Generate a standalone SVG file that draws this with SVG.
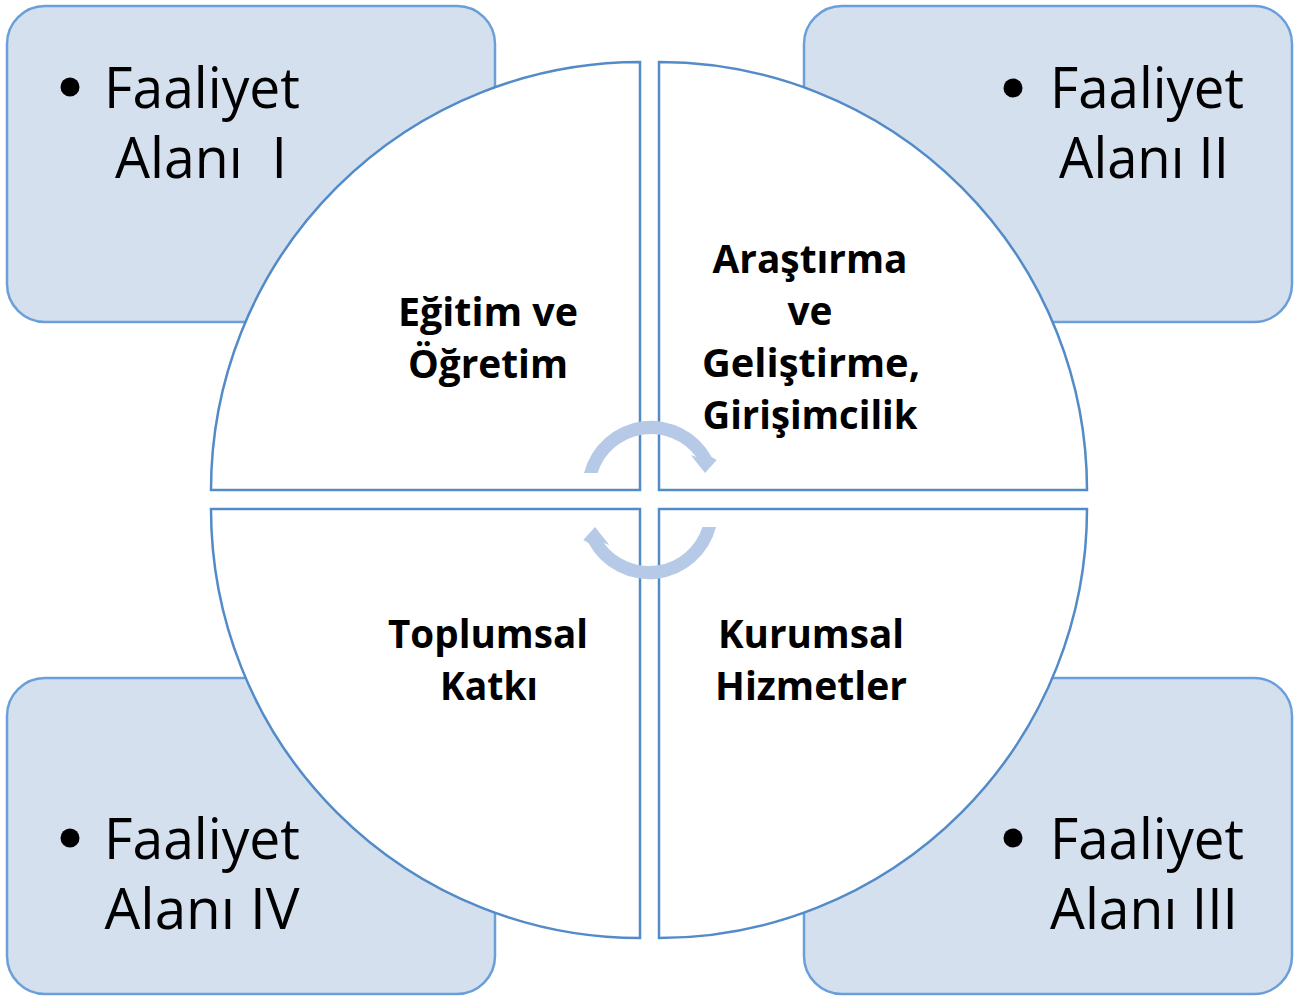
<svg xmlns="http://www.w3.org/2000/svg" width="1306" height="996" viewBox="0 0 1306 996">
<style>
.box{fill:#D5E0EF;stroke:#6A9FD9;stroke-width:2.5}
.quad{fill:#FFFFFF;stroke:#538BC9;stroke-width:2.5}
.arrow{fill:#B6CAE8;stroke:none}
.bt{font-family:"Open Sans","Noto Sans",sans-serif;font-size:56px;fill:#000;text-anchor:middle}
.qt{font-family:"Open Sans","Noto Sans",sans-serif;font-weight:bold;font-size:40px;fill:#000;text-anchor:middle}
.bul{fill:#000}
</style>
<rect width="1306" height="996" fill="#FFFFFF"/>
<g id="box1">
<rect class="box" x="7" y="6" width="488" height="316" rx="38"/>
<circle class="bul" cx="70" cy="87" r="9.5"/>
<text class="bt" x="202" y="108" textLength="196" lengthAdjust="spacingAndGlyphs">Faaliyet</text>
<text class="bt" x="201" y="178" textLength="172" lengthAdjust="spacingAndGlyphs" xml:space="preserve">Alanı  I</text>
</g>
<g id="box2">
<rect class="box" x="804" y="6" width="488" height="316" rx="38"/>
<circle class="bul" cx="1013" cy="88" r="9.5"/>
<text class="bt" x="1147" y="108" textLength="194" lengthAdjust="spacingAndGlyphs">Faaliyet</text>
<text class="bt" x="1144" y="178" textLength="170" lengthAdjust="spacingAndGlyphs">Alanı II</text>
</g>
<g id="box4">
<rect class="box" x="7" y="678" width="488" height="316" rx="38"/>
<circle class="bul" cx="70" cy="838" r="9.5"/>
<text class="bt" x="202" y="859" textLength="196" lengthAdjust="spacingAndGlyphs">Faaliyet</text>
<text class="bt" x="202" y="929" textLength="195" lengthAdjust="spacingAndGlyphs">Alanı IV</text>
</g>
<g id="box3">
<rect class="box" x="804" y="678" width="488" height="316" rx="38"/>
<circle class="bul" cx="1013" cy="838" r="9.5"/>
<text class="bt" x="1147" y="859" textLength="194" lengthAdjust="spacingAndGlyphs">Faaliyet</text>
<text class="bt" x="1144" y="929" textLength="188" lengthAdjust="spacingAndGlyphs">Alanı III</text>
</g>
<g id="q1">
<path class="quad" d="M640,490 L211,490 A429,428 0 0 1 640,62 Z"/>
<text class="qt" x="488" y="326" textLength="180" lengthAdjust="spacingAndGlyphs">Eğitim ve</text>
<text class="qt" x="488" y="378" textLength="160" lengthAdjust="spacingAndGlyphs">Öğretim</text>
</g>
<g id="q2">
<path class="quad" d="M659,490 L1087,490 A428,428 0 0 0 659,62 Z"/>
<text class="qt" x="810" y="273" textLength="195" lengthAdjust="spacingAndGlyphs">Araştırma</text>
<text class="qt" x="810" y="325" textLength="45" lengthAdjust="spacingAndGlyphs">ve</text>
<text class="qt" x="811" y="377" textLength="218" lengthAdjust="spacingAndGlyphs">Geliştirme,</text>
<text class="qt" x="810" y="429" textLength="215" lengthAdjust="spacingAndGlyphs">Girişimcilik</text>
</g>
<g id="q4">
<path class="quad" d="M640,509 L211,509 A429,429 0 0 0 640,938 Z"/>
<text class="qt" x="488" y="648" textLength="200" lengthAdjust="spacingAndGlyphs">Toplumsal</text>
<text class="qt" x="489" y="700" textLength="98" lengthAdjust="spacingAndGlyphs">Katkı</text>
</g>
<g id="q3">
<path class="quad" d="M659,509 L1087,509 A428,429 0 0 1 659,938 Z"/>
<text class="qt" x="811" y="648" textLength="186" lengthAdjust="spacingAndGlyphs">Kurumsal</text>
<text class="qt" x="811" y="700" textLength="192" lengthAdjust="spacingAndGlyphs">Hizmetler</text>
</g>
<g id="connectors">
<path class="arrow" d="M584,473 A69,69 0 0 1 711.6,457 L716.7,460 L705,473 L690.7,455 L696.2,457 A56,56 0 0 0 597.6,473 Z"/>
<path class="arrow" transform="rotate(180 650 500)" d="M584,473 A69,69 0 0 1 711.6,457 L716.7,460 L705,473 L690.7,455 L696.2,457 A56,56 0 0 0 597.6,473 Z"/>
</g>
</svg>
